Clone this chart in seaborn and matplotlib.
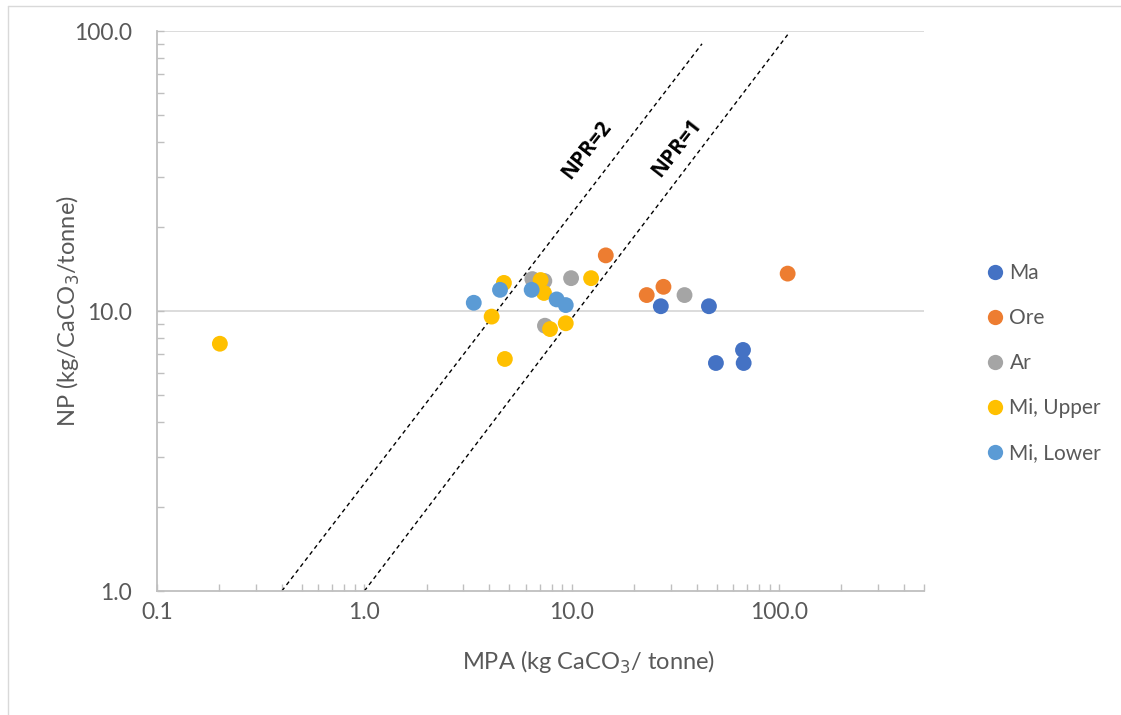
import matplotlib
matplotlib.use("Agg")
import matplotlib.pyplot as plt
import seaborn as sns
import pandas as pd
from matplotlib.ticker import LogLocator, FixedLocator, FixedFormatter, NullFormatter
from matplotlib.lines import Line2D

# ---- data ----
ma_x = [26.9, 45.9, 67.0, 67.5, 49.6]
ma_y = [10.4, 10.4, 7.26, 6.52, 6.52]
ore_x = [14.6, 23.0, 27.7, 110.0]
ore_y = [15.8, 11.4, 12.2, 13.6]
ar_x = [6.46, 7.38, 9.93, 7.43, 35.0]
ar_y = [13.0, 12.8, 13.1, 8.86, 11.4]
miu_x = [0.201, 4.71, 7.08, 7.35, 12.4, 4.11, 7.86, 9.36, 4.76]
miu_y = [7.64, 12.6, 12.9, 11.6, 13.1, 9.55, 8.62, 9.04, 6.74]
mil_x = [3.37, 4.51, 6.41, 8.46, 9.36]
mil_y = [10.7, 11.9, 11.9, 11.0, 10.5]

groups = ["Ma", "Ore", "Ar", "Mi, Upper", "Mi, Lower"]
colors = ["#4472C4", "#ED7D31", "#A5A5A5", "#FFC000", "#5B9BD5"]

npr1_x = [1.0, 110.0]
npr1_y = [1.0, 97.0]
npr2_x = [0.4, 42.5]
npr2_y = [1.0, 90.0]

x_ticks = [0.1, 1.0, 10.0, 100.0]
x_tick_labels = ["0.1", "1.0", "10.0", "100.0"]
y_ticks = [1.0, 10.0, 100.0]
y_tick_labels = ["1.0", "10.0", "100.0"]

frames = []
for g, xs, ys in zip(groups, [ma_x, ore_x, ar_x, miu_x, mil_x],
                     [ma_y, ore_y, ar_y, miu_y, mil_y]):
    frames.append(pd.DataFrame({"MPA": xs, "NP": ys, "Group": g}))
df = pd.concat(frames, ignore_index=True)

sns.set_theme(style="white")
plt.rcParams["font.family"] = ["Lato", "DejaVu Sans"]

fig = plt.figure(figsize=(11.21, 7.15), dpi=100)
ax = fig.add_axes([157 / 1121, 1 - 591 / 715, (924 - 157) / 1121, (591 - 31) / 715])

ax.set_xscale("log")
ax.set_yscale("log")
ax.set_xlim(0.1, 500)
ax.set_ylim(1, 100)

# gridlines
for yv in [10.0, 100.0]:
    ax.axhline(yv, color="#D9D9D9", lw=1.3, zorder=0)

# NPR lines
ax.plot(npr2_x, npr2_y, ls=(0, (3, 2.5)), color="black", lw=1.0, zorder=1)
ax.plot(npr1_x, npr1_y, ls=(0, (3, 2.5)), color="black", lw=1.0, zorder=1)

sns.scatterplot(data=df, x="MPA", y="NP", hue="Group", hue_order=groups,
                palette=colors, s=130, linewidth=0, ax=ax, zorder=3, legend=False)

ax.text(11.8, 37.6, "NPR=2", rotation=52, ha="center", va="center",
        fontsize=15, fontweight="bold", color="black", family=["Open Sans", "DejaVu Sans"])
ax.text(32.2, 38.2, "NPR=1", rotation=52, ha="center", va="center",
        fontsize=15, fontweight="bold", color="black", family=["Open Sans", "DejaVu Sans"])

# spines
for s in ["top", "right"]:
    ax.spines[s].set_visible(False)
for s in ["left", "bottom"]:
    ax.spines[s].set_color("#BFBFBF")
    ax.spines[s].set_linewidth(1.3)

ax.xaxis.set_major_locator(FixedLocator(x_ticks))
ax.xaxis.set_major_formatter(FixedFormatter(x_tick_labels))
ax.yaxis.set_major_locator(FixedLocator(y_ticks))
ax.yaxis.set_major_formatter(FixedFormatter(y_tick_labels))
ax.xaxis.set_minor_locator(LogLocator(base=10, subs=range(2, 10)))
ax.yaxis.set_minor_locator(LogLocator(base=10, subs=range(2, 10)))
ax.xaxis.set_minor_formatter(NullFormatter())
ax.yaxis.set_minor_formatter(NullFormatter())
ax.tick_params(which="both", direction="in", length=5, width=1, color="#BFBFBF",
               bottom=True, left=True, labelsize=16.5, labelcolor="#595959")
ax.tick_params(axis="x", which="major", pad=8)
ax.tick_params(axis="y", which="major", pad=18)

ax.set_xlabel("MPA (kg CaCO$_3$/ tonne)", fontsize=17, color="#595959")
ax.set_ylabel("NP (kg/CaCO$_3$/tonne)", fontsize=17, color="#595959")
ax.xaxis.set_label_coords((589 - 157) / 767, (591 - 649) / 560)
ax.yaxis.set_label_coords((82 - 157) / 767, 0.5)

handles = [Line2D([], [], marker="o", ls="", markersize=11, color=c, markeredgewidth=0)
           for c in colors]
fig.legend(handles, groups, loc="upper left", bbox_to_anchor=(973 / 1121, 1 - 255 / 715),
           frameon=False, fontsize=15, labelcolor="#595959", handletextpad=0.05,
           labelspacing=1.2, borderaxespad=0, handlelength=1.3)

# outer chart border (partially visible)
fig.add_artist(Line2D([8 / 1121, 8 / 1121], [0, 1 - 6 / 715], transform=fig.transFigure,
                      color="#D9D9D9", lw=1))
fig.add_artist(Line2D([8 / 1121, 1], [1 - 6 / 715, 1 - 6 / 715], transform=fig.transFigure,
                      color="#D9D9D9", lw=1))

fig.savefig("out.png", dpi=100)
